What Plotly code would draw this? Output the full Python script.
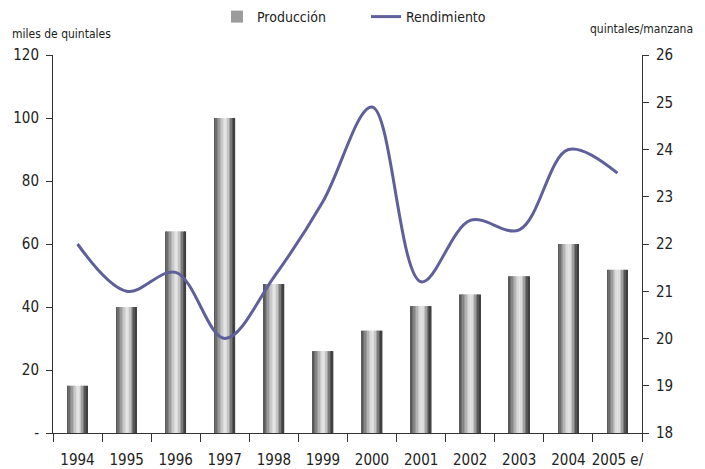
import plotly.graph_objects as go

years = ["1994", "1995", "1996", "1997", "1998", "1999", "2000", "2001", "2002", "2003", "2004", "2005 e/"]
produccion = [15, 40, 64, 100, 47.3, 26, 32.5, 40.3, 44, 49.8, 60, 51.8]
rendimiento = [22.0, 21.0, 21.4, 20.0, 21.3, 22.9, 24.9, 21.2, 22.5, 22.3, 24.0, 23.5]
left_ticks = [0, 20, 40, 60, 80, 100, 120]
left_labels = ["-", "20", "40", "60", "80", "100", "120"]
right_ticks = [18, 19, 20, 21, 22, 23, 24, 25, 26]

FONT = "DejaVu Sans Condensed, Liberation Sans Narrow, sans-serif"

# gradient shades across the bar width (cylinder look)
shades = ["#5a5a5a", "#6e6e6e", "#858585", "#9c9c9c", "#b4b4b4", "#c9c9c9",
          "#dadada", "#e4e4e4", "#dcdcdc", "#c4c4c4", "#a0a0a0", "#7a7a7a", "#555555", "#404040"]
bar_w = 0.42
n = len(shades)
sw = bar_w / n

fig = go.Figure()
for i, c in enumerate(shades):
    fig.add_trace(go.Bar(
        x=years, y=produccion, name="Producción",
        marker=dict(color=c, line=dict(width=0)),
        width=sw * 1.05, offset=-bar_w / 2 + i * sw,
        showlegend=(i == 3), legendrank=1,
        hoverinfo="skip" if i != 3 else None,
    ))

fig.add_trace(go.Scatter(
    x=years, y=rendimiento, name="Rendimiento", yaxis="y2",
    mode="lines", line=dict(color="#5f5f9b", width=3, shape="spline", smoothing=1.0),
    legendrank=2,
))

PW, PH = 589, 378
fig.update_layout(
    width=705, height=469,
    margin=dict(l=45, r=705 - 45 - PW, t=47, b=469 - 47 - PH, autoexpand=False),
    paper_bgcolor="white", plot_bgcolor="white",
    barmode="overlay",
    font=dict(family=FONT, size=15, color="#222"),
    legend=dict(orientation="h", x=(232 - 8 - 45 - 15) / PW, xanchor="left",
                y=1 + (47 + 7) / PH, yanchor="top", font=dict(size=14),
                tracegroupgap=0, entrywidth=104, bgcolor="rgba(0,0,0,0)"),
    xaxis=dict(type="category", showline=True, linecolor="#333", linewidth=1,
               ticks="outside", tickson="boundaries", ticklen=8, tickcolor="#333",
               showgrid=False, tickfont=dict(size=15), tickangle=0, automargin=False,
               ticklabelstandoff=13, range=[-0.5, 11.5]),
    yaxis=dict(range=[0, 120], tickvals=left_ticks, ticktext=left_labels,
               showline=True, linecolor="#333", linewidth=1, ticks="outside",
               ticklen=6, tickcolor="#333", showgrid=False, zeroline=False,
               tickfont=dict(size=15), automargin=False, ticklabelstandoff=4),
    yaxis2=dict(range=[18, 26], tickvals=right_ticks, overlaying="y", side="right",
                showline=True, linecolor="#333", linewidth=1, ticks="outside",
                ticklen=6, tickcolor="#333", showgrid=False, zeroline=False,
                tickfont=dict(size=15), automargin=False, ticklabelstandoff=4),
)
fig.add_annotation(text="miles de quintales", xref="paper", yref="paper",
                   x=-(45 - 2) / PW, y=1 + 12 / PH, xanchor="left", yanchor="bottom",
                   showarrow=False, font=dict(size=12))
fig.add_annotation(text="quintales/manzana", xref="paper", yref="paper",
                   x=1 + (695 - 8 - 45 - PW) / PW, y=1 + 17 / PH, xanchor="right",
                   yanchor="bottom", showarrow=False, font=dict(size=12))

fig.write_html("out.html")
